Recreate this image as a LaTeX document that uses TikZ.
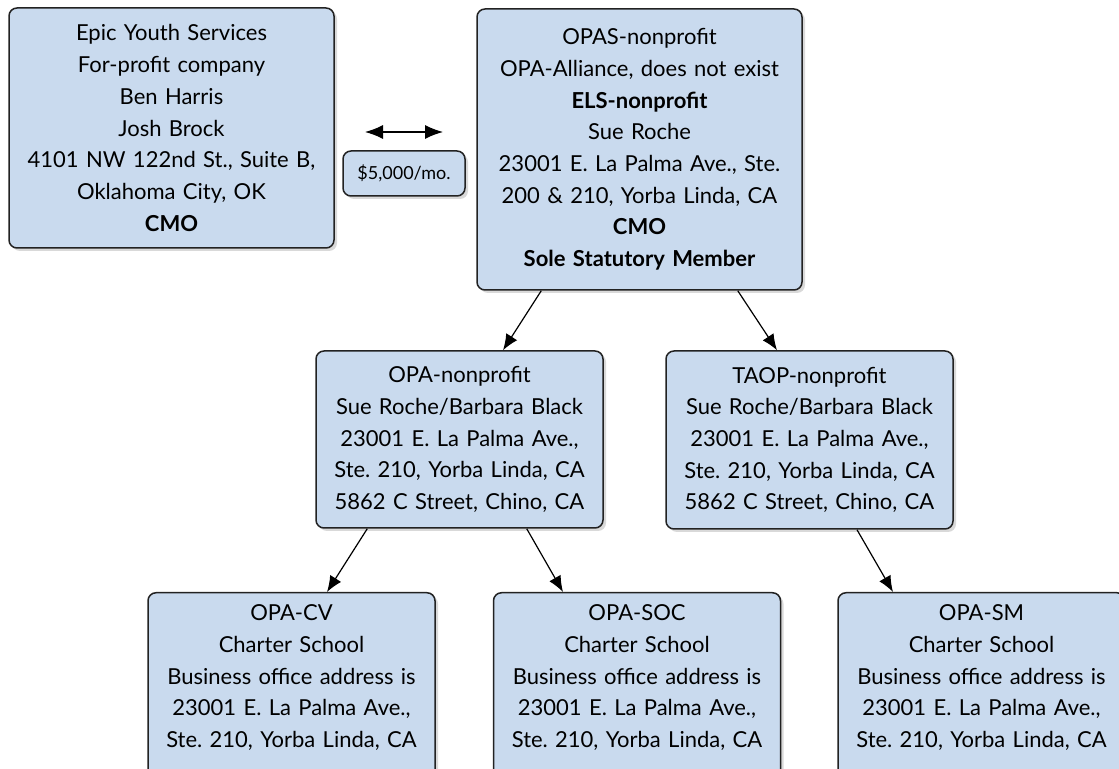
\documentclass[tikz,border=0pt]{standalone}
\usepackage{fontspec}
\setmainfont{Lato}
\frenchspacing
\usetikzlibrary{arrows.meta,shadows}

\definecolor{boxblue}{RGB}{201,218,238}
\definecolor{boxline}{RGB}{34,34,34}

\tikzset{
  orgbox/.style={draw=boxline, line width=0.75pt, fill=boxblue, rounded corners=4pt,
    align=center, inner xsep=3pt, inner ysep=4pt,
    font=\fontsize{11}{15.85}\selectfont,
    drop shadow={shadow xshift=1.5pt, shadow yshift=-1.5pt, opacity=0.3}},
  schoolbox/.style={orgbox, anchor=north, text width=137.5pt, inner ysep=6pt, text depth=100pt},
  link/.style={arrows={-Latex[length=8pt,width=6.5pt]}, line width=0.6pt},
  feelink/.style={arrows={Latex[length=9pt,width=7pt]-Latex[length=9pt,width=7pt]}, line width=0.6pt},
}

\begin{document}
\begin{tikzpicture}[x=0.5pt, y=-0.5pt]
    \useasboundingbox (0,0) rectangle (1119,769);
    \clip (0,0) rectangle (1119,769);

    \node[orgbox, text width=156.5pt, minimum height=120pt] (epic) at (171.5,128)
      {Epic Youth Services\\ For-profit company\\ Ben Harris\\ Josh Brock\\
       4101 NW 122nd St., Suite B,\\ Oklahoma City, OK\\ \textbf{CMO}};
    \node[orgbox, text width=156.5pt, minimum height=140.5pt] (opas) at (639.5,149.5)
      {OPAS-nonprofit\\ OPA-Alliance, does not exist\\ \textbf{ELS-nonprofit}\\ Sue Roche\\
       23001 E. La Palma Ave., Ste.\\ 200 \& 210, Yorba Linda, CA\\ \textbf{CMO}\\
       \textbf{Sole Statutory Member}};
    \node[orgbox, text width=55pt, minimum height=22.5pt, inner ysep=2pt,
      font=\fontsize{9}{10}\selectfont] (fee) at (404,173.5) {\$5,000/mo.};
    \coordinate (feeL) at (365,132);
    \coordinate (feeR) at (443,132);

    \node[orgbox, text width=137.5pt, minimum height=88.5pt] (opa) at (459.5,439.5)
      {OPA-nonprofit\\ Sue Roche/Barbara Black\\ 23001 E. La Palma Ave.,\\
       Ste. 210, Yorba Linda, CA\\ 5862 C Street, Chino, CA};
    \node[orgbox, text width=137.5pt, minimum height=89pt] (taop) at (809.5,440)
      {TAOP-nonprofit\\ Sue Roche/Barbara Black\\ 23001 E. La Palma Ave.,\\
       Ste. 210, Yorba Linda, CA\\ 5862 C Street, Chino, CA};

    \node[schoolbox] (cv) at (291.5,592)
      {OPA-CV\\ Charter School\\ Business office address is\\ 23001 E. La Palma Ave.,\\
       Ste. 210, Yorba Linda, CA};
    \node[schoolbox] (soc) at (637,592)
      {OPA-SOC\\ Charter School\\ Business office address is\\ 23001 E. La Palma Ave.,\\
       Ste. 210, Yorba Linda, CA};
    \node[schoolbox] (sm) at (981.5,592)
      {OPA-SM\\ Charter School\\ Business office address is\\ 23001 E. La Palma Ave.,\\
       Ste. 210, Yorba Linda, CA};

    \draw[feelink] (feeL) -- (feeR);
    \draw[link] ([xshift=32.5pt]opas.south west) -- ([xshift=21.75pt]opa.north);
    \draw[link] ([xshift=-32.5pt]opas.south east) -- ([xshift=-16.25pt]taop.north);
    \draw[link] ([xshift=26pt]opa.south west) -- ([xshift=17.75pt]cv.north);
    \draw[link] ([xshift=-38.5pt]opa.south east) -- ([xshift=-37pt]soc.north);
    \draw[link] ([xshift=23.75pt]taop.south) -- ([xshift=-44.25pt]sm.north);
\end{tikzpicture}
\end{document}
